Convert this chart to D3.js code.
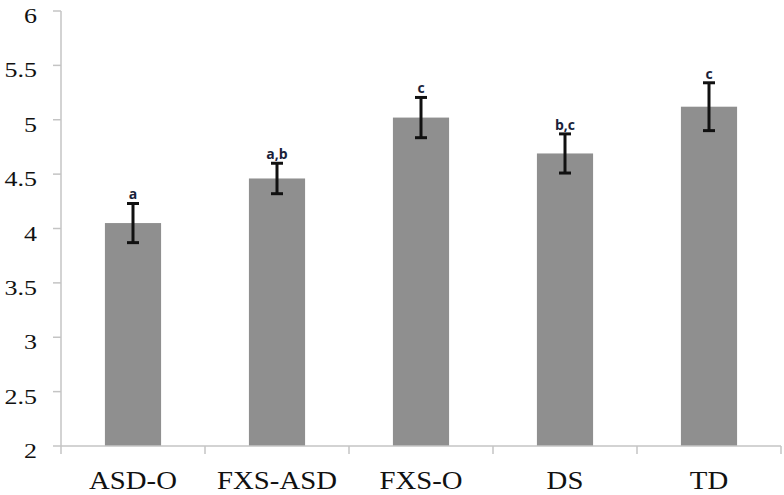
<!DOCTYPE html>
<html><head><meta charset="utf-8">
<script src="https://cdn.jsdelivr.net/npm/d3@7"></script>
<style>body{margin:0;background:#fff}svg{display:block}</style>
</head><body>
<svg id="c" width="784" height="495"></svg>
<script>
const categories = ["ASD-O","FXS-ASD","FXS-O","DS","TD"];
const means = [4.05, 4.46, 5.02, 4.69, 5.12];
const errors = [0.18, 0.14, 0.185, 0.18, 0.22];
const sigLabels = ["a","a,b","c","b,c","c"];
const yTicks = [2, 2.5, 3, 3.5, 4, 4.5, 5, 5.5, 6];

const svg = d3.select("#c");
const x = d3.scaleBand().domain(categories).range([61, 781]);
const y = d3.scaleLinear().domain([2, 6]).range([446, 11]);
const axisColor = "#c4c4c4";
const barW = x.bandwidth() * 0.39;

// y axis
svg.append("line").attr("x1",61).attr("x2",61).attr("y1",y(6)).attr("y2",y(2))
  .attr("stroke",axisColor).attr("stroke-width",1.5);
const yt = svg.append("g");
yt.selectAll("line").data(yTicks).join("line")
  .attr("x1",53).attr("x2",61).attr("y1",d=>y(d)).attr("y2",d=>y(d))
  .attr("stroke",axisColor).attr("stroke-width",1.5);
yt.selectAll("text").data(yTicks).join("text")
  .attr("transform",d=>`translate(37,${y(d)+12}) scale(1.18,1)`)
  .attr("text-anchor","end")
  .attr("font-family","'Liberation Serif', 'Times New Roman', serif")
  .attr("font-size",22).attr("fill","#111")
  .text(d=>d);

// bars
svg.append("g").selectAll("rect").data(categories).join("rect")
  .attr("x",(d)=>x(d)+x.bandwidth()/2-barW/2)
  .attr("width",barW)
  .attr("y",(d,i)=>y(means[i]))
  .attr("height",(d,i)=>y(2)-y(means[i]))
  .attr("fill","#8f8f8f");

// x axis
svg.append("line").attr("x1",61).attr("x2",781).attr("y1",y(2)).attr("y2",y(2))
  .attr("stroke",axisColor).attr("stroke-width",1.5);
const xTickPos = categories.map(d=>x(d)).concat([x(categories[categories.length-1])+x.bandwidth()]);
svg.append("g").selectAll("line").data(xTickPos).join("line")
  .attr("x1",d=>d).attr("x2",d=>d).attr("y1",y(2)).attr("y2",y(2)+8)
  .attr("stroke",axisColor).attr("stroke-width",1.5);
svg.append("g").selectAll("text").data(categories).join("text")
  .attr("transform",d=>`translate(${x(d)+x.bandwidth()/2},489) scale(1.15,1)`)
  .attr("text-anchor","middle")
  .attr("font-family","'Liberation Serif', 'Times New Roman', serif")
  .attr("font-size",25).attr("fill","#111")
  .text(d=>d);

// error bars
const eg = svg.append("g").attr("stroke","#111").attr("stroke-width",3);
categories.forEach((c,i)=>{
  const cx = x(c)+x.bandwidth()/2;
  const t = y(means[i]+errors[i]), b = y(means[i]-errors[i]);
  eg.append("line").attr("x1",cx).attr("x2",cx).attr("y1",t).attr("y2",b);
  eg.append("line").attr("x1",cx-6).attr("x2",cx+6).attr("y1",t).attr("y2",t);
  eg.append("line").attr("x1",cx-6).attr("x2",cx+6).attr("y1",b).attr("y2",b);
});

// significance letters
svg.append("g").selectAll("text").data(categories).join("text")
  .attr("x",d=>x(d)+x.bandwidth()/2)
  .attr("y",(d,i)=>y(means[i]+errors[i])-4)
  .attr("text-anchor","middle")
  .attr("font-family","'Open Sans', 'DejaVu Sans', sans-serif")
  .attr("font-weight","bold")
  .attr("font-size",14).attr("fill","#1a1f3a")
  .text((d,i)=>sigLabels[i]);
</script>
</body></html>
